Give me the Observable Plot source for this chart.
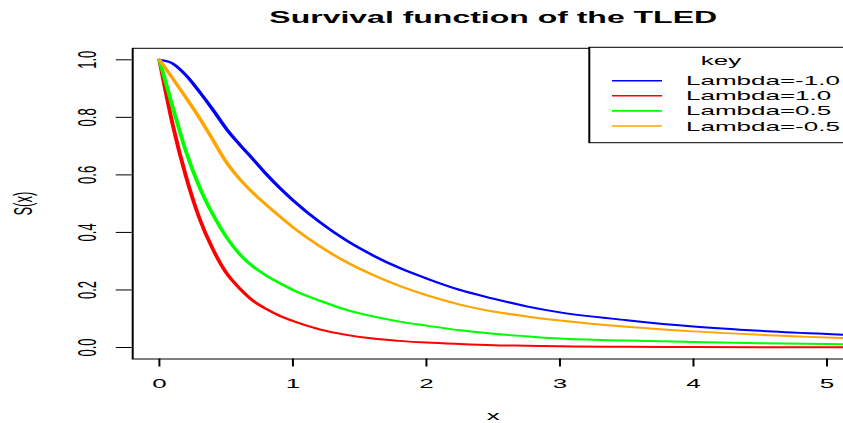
<!DOCTYPE html>
<html>
<head>
<meta charset="utf-8">
<script src="https://cdn.jsdelivr.net/npm/d3@7"></script>
<script src="https://cdn.jsdelivr.net/npm/@observablehq/plot@0.6"></script>
<style>
  html, body { margin: 0; padding: 0; background: #fff; overflow: hidden; }
  #chart { width: 843px; height: 423px; overflow: hidden; position: relative; }
</style>
</head>
<body>
<div id="chart"></div>
<script>
// ---- data ----
const xs = [0, 0.1, 0.2, 0.3, 0.4, 0.5, 0.6, 0.7, 0.8, 0.9, 1.0, 1.2, 1.4, 1.6, 1.8, 2.0, 2.25, 2.5, 2.75, 3.0, 3.5, 4.0, 4.5, 5.0, 5.2];
const sLambdaMinus1 = [1, 0.987, 0.946, 0.889, 0.827, 0.761, 0.706, 0.655, 0.603, 0.555, 0.512, 0.436, 0.372, 0.32, 0.276, 0.24, 0.2, 0.17, 0.143, 0.122, 0.095, 0.073, 0.058, 0.047, 0.043];
const sLambda1 = [1, 0.774, 0.593, 0.449, 0.342, 0.26, 0.206, 0.163, 0.134, 0.11, 0.092, 0.063, 0.044, 0.031, 0.023, 0.017, 0.012, 0.008, 0.006, 0.004, 0.0025, 0.0015, 0.001, 0.0006, 0.0005];
const sLambda05 = [1, 0.835, 0.68, 0.558, 0.463, 0.385, 0.325, 0.282, 0.25, 0.224, 0.2, 0.163, 0.131, 0.108, 0.09, 0.076, 0.06, 0.048, 0.039, 0.031, 0.024, 0.019, 0.015, 0.012, 0.011];
const sLambdaMinus05 = [1, 0.935, 0.868, 0.798, 0.722, 0.645, 0.586, 0.538, 0.496, 0.456, 0.418, 0.352, 0.297, 0.252, 0.214, 0.182, 0.149, 0.125, 0.108, 0.094, 0.072, 0.056, 0.044, 0.035, 0.032];

const seriesNames = ["Lambda=-1.0", "Lambda=1.0", "Lambda=0.5", "Lambda=-0.5"];
const seriesValues = [sLambdaMinus1, sLambda1, sLambda05, sLambdaMinus05];
const seriesColors = ["#0000FF", "#FF0000", "#00FF00", "#FFA500"];

const xTicks = [0, 1, 2, 3, 4, 5];
const yTicks = [0, 0.2, 0.4, 0.6, 0.8, 1.0];
const yTickLabels = ["0.0", "0.2", "0.4", "0.6", "0.8", "1.0"];
const titleText = "Survival function of the TLED";
const xLabel = "x";
const yLabel = "S(x)";
const legendTitle = "key";

// ---- table for Plot ----
const rows = [];
seriesValues.forEach((vals, i) => vals.forEach((v, j) => rows.push({x: xs[j], s: v, key: seriesNames[i]})));

const FONT = "'Liberation Sans', Arial, Helvetica, sans-serif";
// The reference is drawn at half width and stretched 2x horizontally.
const W = 460, H = 423;
const mL = 65.85, mR = 33.65, mT = 47.8, mB = 64.5;

const svg = Plot.plot({
  width: W,
  height: H,
  marginLeft: mL,
  marginRight: mR,
  marginTop: mT,
  marginBottom: mB,
  style: {fontFamily: FONT, fontSize: "13px", color: "#000", background: "white", overflow: "visible"},
  x: {domain: [-0.2, 5.2], axis: null},
  y: {domain: [-0.04, 1.04], axis: null},
  color: {domain: seriesNames, range: seriesColors},
  marks: [
    Plot.line(rows, {x: "x", y: "s", z: "key", stroke: "key", strokeWidth: 2, curve: "monotone-x", clip: true}),
    Plot.frame({stroke: "#000", strokeWidth: 1}),
    Plot.axisX(xTicks, {tickSize: 8, tickPadding: 11.5, fontSize: 13, label: null, tickFormat: d => String(d)}),
    Plot.axisY(yTicks, {tickSize: 8, fill: "none", label: null}),
    Plot.text(yTicks, {y: d => d, text: (d, i) => yTickLabels[i], frameAnchor: "left", rotate: -90, dx: -18.35, lineAnchor: "bottom", textAnchor: "middle", fontSize: 13}),
    Plot.text([yLabel], {text: d => d, frameAnchor: "left", rotate: -90, dx: -50.35, lineAnchor: "bottom", textAnchor: "middle", fontSize: 13}),
    Plot.text([xLabel], {text: d => d, frameAnchor: "bottom", dy: 60.5, lineAnchor: "bottom", fontSize: 13}),
    Plot.text([titleText], {text: d => d, frameAnchor: "top", dy: -25.1, lineAnchor: "bottom", fontSize: 16, fontWeight: "bold"})
  ]
});

// ---- legend (R style, top right, boxed) ----
const frameRight = W - mR;
const lgLeft = 294.65, lgTop = mT - 0.5, lgBottom = 142.7;
const g = d3.select(svg).append("g").attr("font-family", FONT).attr("font-size", 13).attr("fill", "#000");
g.append("rect")
  .attr("x", lgLeft).attr("y", lgTop)
  .attr("width", frameRight - lgLeft).attr("height", lgBottom - lgTop)
  .attr("fill", "white").attr("stroke", "#000").attr("stroke-width", 1);
g.append("text").attr("x", (lgLeft + frameRight) / 2).attr("y", 65.5).attr("text-anchor", "middle").text(legendTitle);
seriesNames.forEach((name, i) => {
  const cy = 80.7 + i * 15.1;
  g.append("line").attr("x1", 306).attr("x2", 331).attr("y1", cy).attr("y2", cy)
    .attr("stroke", seriesColors[i]).attr("stroke-width", 1.6);
  g.append("text").attr("x", 343).attr("y", cy + 4.6).attr("text-anchor", "start").text(name);
});

// stretch horizontally by 2 (as in the reference)
svg.setAttribute("viewBox", `0 0 ${W} ${H}`);
svg.setAttribute("preserveAspectRatio", "none");
svg.setAttribute("width", 2 * W);
svg.setAttribute("height", H);
svg.style.width = (2 * W) + "px";
svg.style.height = H + "px";
svg.style.maxWidth = "none";
document.getElementById("chart").appendChild(svg);
</script>
</body>
</html>
